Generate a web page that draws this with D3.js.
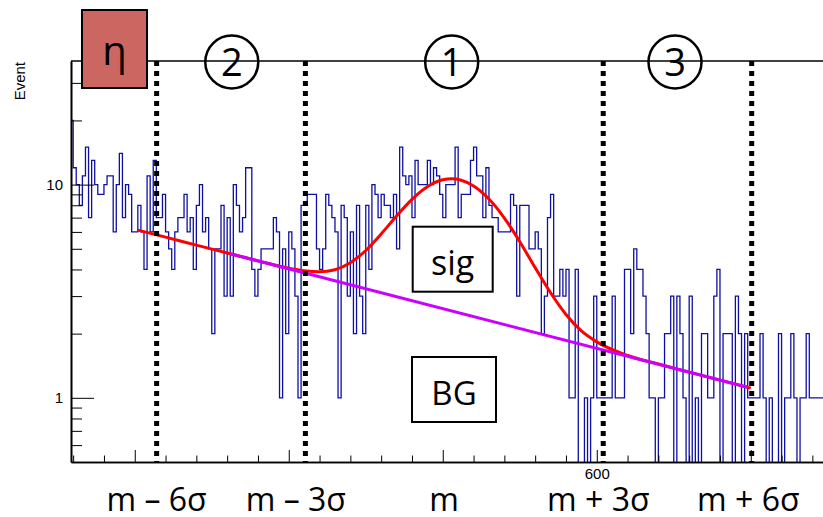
<!DOCTYPE html>
<html>
<head>
<meta charset="utf-8">
<script src="https://cdn.jsdelivr.net/npm/d3@7"></script>
<style>
  body { margin: 0; background: #fff; }
  svg { display: block; }
  .root-text { font-family: "Liberation Sans", Arial, sans-serif; }
  .slide-text { font-family: "Open Sans", sans-serif; }
</style>
</head>
<body>
<div id="chart"></div>
<script>
// histogram: one entry per 1 MeV bin, first bin starts at firstBin
const firstBin = 429;
const binCounts = [
  20, 12, 10, 8, 11, 15, 7, 13, 10, 9, 9, 10, 11, 11, 6, 10, 14, 7, 10, 9,
  6, 6, 8, 6, 4, 11, 6, 13, 7, 7, 9, 6, 5, 4, 6, 7, 7, 9, 6, 7,
  4, 8, 10, 6, 7, 5, 2, 5, 5, 8, 3, 7, 3, 10, 8, 6, 7, 12, 12, 4,
  3, 4, 5, 5, 5, 5, 7, 6, 1, 5, 2, 6, 5, 3, 1, 8, 8, 9, 9, 9,
  5, 4, 5, 9, 8, 7, 6, 1, 8, 7, 3, 6, 2, 8, 3, 2, 8, 4, 10, 9,
  7, 9, 8, 8, 7, 9, 5, 15, 11, 10, 11, 7, 13, 10, 10, 10, 13, 10, 12, 11,
  9, 7, 10, 10, 10, 15, 7, 9, 9, 9, 13, 15, 11, 11, 7, 12, 8, 7, 7, 6,
  6, 6, 6, 9, 8, 3, 8, 8, 8, 5, 5, 6, 5, 2, 3, 7, 9, 3, 3, 4,
  3, 4, 1, 1, 4, 0, 0, 1, 0, 1, 3, 1, 1, 1, 1, 1, 3, 1, 1, 1,
  4, 4, 2, 5, 4, 4, 3, 2, 1, 1, 0, 1, 1, 2, 2, 3, 0, 3, 2, 1,
  0, 3, 0, 1, 0, 2, 2, 1, 1, 3, 4, 0, 2, 2, 2, 0, 3, 2, 0, 2,
  1, 1, 1, 1, 2, 1, 0, 1, 0, 0, 2, 0, 1, 1, 2, 1, 0, 1, 1, 2,
  1, 1, 1, 1, 1
];

// total fit (red)
const fitX = [451, 460, 470, 480, 490, 500, 505, 510, 515, 520, 525, 530, 535, 540, 545,
  550, 553, 556, 560, 565, 570, 575, 580, 585, 590, 595, 600, 610, 620, 630, 640, 650];
const fitY = [6.12, 5.67, 5.20, 4.78, 4.39, 4.05, 3.94, 3.90, 3.99, 4.30, 4.91, 5.87, 7.13, 8.53, 9.77,
  10.53, 10.65, 10.49, 9.86, 8.56, 6.97, 5.40, 4.08, 3.11, 2.46, 2.06, 1.83, 1.58, 1.44, 1.32, 1.21, 1.11];

// background (magenta)
const bgX = [481, 649];
const bgY = [4.74, 1.12];

const markerPositions = [457.1, 505.4, 602.1, 650.3];
const markerLabels = ["m – 6σ", "m – 3σ", "m", "m + 3σ", "m + 6σ"];
const markerLabelX = [457.1, 502.3, 550.4, 600.5, 649.2];
const regionNumbers = ["2", "1", "3"];
const regionX = [481.5, 552.9, 625.4];

const yMajorTicks = [1, 10];
const yMinorTicks = [0.6, 0.7, 0.8, 0.9, 2, 3, 4, 5, 6, 7, 8, 9, 20, 30];
const xMajorTicks = [450, 500, 550, 600, 650];
const xMinorTicks = [430, 440, 460, 470, 480, 490, 510, 520, 530, 540, 560, 570, 580, 590, 610, 620, 630, 640, 660, 670];
const xLabelTicks = [600];

const width = 823;
const height = 517;
const frame = { left: 71, top: 61, bottom: 462, right: 823 };

const xScale = d3.scaleLinear().domain([429.3, 673.45]).range([frame.left, frame.right]);
const yScale = d3.scaleLog().domain([0.5, 38]).range([frame.bottom, frame.top]);

const svg = d3.select("#chart").append("svg").attr("width", width).attr("height", height);
svg.append("rect").attr("width", width).attr("height", height).attr("fill", "#fff");

svg.append("clipPath").attr("id", "plot-clip")
  .append("rect")
  .attr("x", frame.left).attr("y", frame.top)
  .attr("width", frame.right - frame.left).attr("height", frame.bottom - frame.top);

const plot = svg.append("g").attr("clip-path", "url(#plot-clip)");

// histogram outline
const histPoints = binCounts.map((c, i) => [firstBin + i, c]);
histPoints.push([firstBin + binCounts.length, binCounts[binCounts.length - 1]]);
const histLine = d3.line()
  .x(d => xScale(d[0]))
  .y(d => d[1] > 0 ? yScale(d[1]) : frame.bottom + 10)
  .curve(d3.curveStepAfter);
plot.append("path")
  .datum(histPoints)
  .attr("d", histLine)
  .attr("fill", "none")
  .attr("stroke", "#1010a0")
  .attr("stroke-width", 1.3);

const curveLine = d3.line()
  .x(d => xScale(d[0]))
  .y(d => yScale(d[1]))
  .curve(d3.curveMonotoneX);

plot.append("path")
  .datum(fitX.map((x, i) => [x, fitY[i]]))
  .attr("d", curveLine)
  .attr("fill", "none")
  .attr("stroke", "#ff0000")
  .attr("stroke-width", 3);

plot.append("path")
  .datum(bgX.map((x, i) => [x, bgY[i]]))
  .attr("d", curveLine)
  .attr("fill", "none")
  .attr("stroke", "#cc00ff")
  .attr("stroke-width", 3);

// axes
const yMajor = d3.axisLeft(yScale).tickValues(yMajorTicks).tickSize(-23).tickPadding(8).tickFormat(d => d);
const yMinor = d3.axisLeft(yScale).tickValues(yMinorTicks).tickSize(-11).tickFormat("");
const xMajor = d3.axisBottom(xScale).tickValues(xMajorTicks).tickSize(-12).tickPadding(6)
  .tickFormat(d => xLabelTicks.includes(d) ? d : "");
const xMinor = d3.axisBottom(xScale).tickValues(xMinorTicks).tickSize(-6.5).tickFormat("");

[yMajor, yMinor].forEach(ax => {
  svg.append("g").attr("class", "root-text").attr("transform", `translate(${frame.left},0)`).call(ax.tickSizeOuter(0));
});
[xMajor, xMinor].forEach(ax => {
  svg.append("g").attr("class", "root-text").attr("transform", `translate(0,${frame.bottom})`).call(ax.tickSizeOuter(0));
});
svg.selectAll(".tick text").attr("font-size", 15).attr("fill", "#000");
svg.selectAll(".domain").attr("stroke-width", 1.6);

// top frame line
svg.append("line")
  .attr("x1", frame.left).attr("x2", width)
  .attr("y1", frame.top).attr("y2", frame.top)
  .attr("stroke", "#000").attr("stroke-width", 1.6);

svg.append("text")
  .attr("class", "root-text")
  .attr("transform", `translate(25,${frame.top + 1}) rotate(-90)`)
  .attr("text-anchor", "end")
  .attr("font-size", 15)
  .text("Event");

// dotted region boundaries
svg.selectAll(".marker")
  .data(markerPositions)
  .enter()
  .append("line")
  .attr("class", "marker")
  .attr("x1", d => xScale(d)).attr("x2", d => xScale(d))
  .attr("y1", frame.top).attr("y2", frame.bottom)
  .attr("stroke", "#000")
  .attr("stroke-width", 5)
  .attr("stroke-dasharray", "5,5");

svg.selectAll(".marker-label")
  .data(markerLabels)
  .enter()
  .append("text")
  .attr("class", "slide-text")
  .attr("x", (d, i) => xScale(markerLabelX[i]))
  .attr("y", 511)
  .attr("text-anchor", "middle")
  .attr("font-size", 32)
  .text(d => d);

// circled region numbers
const regions = svg.selectAll(".region").data(regionNumbers).enter().append("g")
  .attr("transform", (d, i) => `translate(${xScale(regionX[i])},${frame.top + 1})`);
regions.append("circle").attr("r", 26.5).attr("fill", "none").attr("stroke", "#000").attr("stroke-width", 2.5);
regions.append("text")
  .attr("class", "slide-text")
  .attr("text-anchor", "middle")
  .attr("y", 14)
  .attr("font-size", 38)
  .text(d => d);

// sig / BG boxes
const boxes = [
  { label: "sig", x: 412.7, y: 226.7, w: 80, h: 65, base: 275, size: 34 },
  { label: "BG", x: 412, y: 357, w: 84, h: 65, base: 405, size: 33 }
];
boxes.forEach(b => {
  svg.append("rect").attr("x", b.x).attr("y", b.y).attr("width", b.w).attr("height", b.h)
    .attr("fill", "#fff").attr("stroke", "#000").attr("stroke-width", 2);
  svg.append("text").attr("class", "slide-text")
    .attr("x", b.x + b.w / 2).attr("y", b.base)
    .attr("text-anchor", "middle").attr("font-size", b.size)
    .text(b.label);
});

// eta badge
svg.append("rect").attr("x", 82).attr("y", 10).attr("width", 65).attr("height", 78)
  .attr("fill", "#cc6661").attr("stroke", "#000").attr("stroke-width", 2);
svg.append("text").attr("class", "slide-text")
  .attr("x", 114.5).attr("y", 65)
  .attr("text-anchor", "middle").attr("font-size", 40)
  .text("η");
</script>
</body>
</html>
